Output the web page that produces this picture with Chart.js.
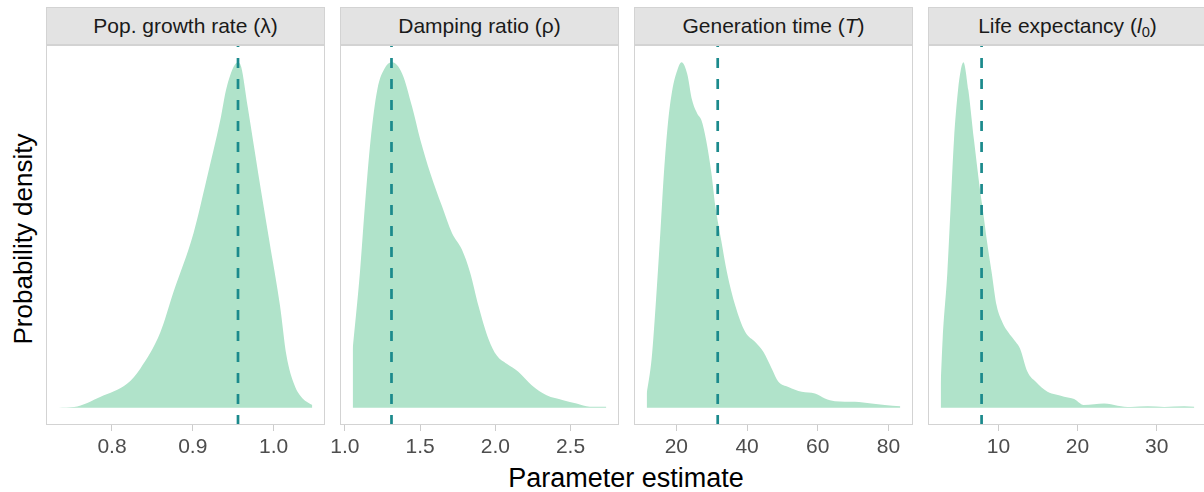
<!DOCTYPE html>
<html lang="en">
<head>
  <meta charset="UTF-8">
  <title>Parameter estimate densities</title>
  <script src="https://cdn.jsdelivr.net/npm/chart.js"></script>
  <style>
    html, body { margin: 0; padding: 0; overflow: hidden; background: #fff; }
    body { position: relative; width: 1204px; height: 492px; font-family: 'Liberation Sans', Arial, sans-serif; }
    .strip {
      position: absolute; top: 7px; height: 38px; box-sizing: border-box;
      background: #e3e3e3; border: 1px solid #d3d3d3;
      text-align: center; line-height: 36px; font-size: 21px; color: #1a1a1a; white-space: nowrap;
    }
    .strip sub { font-size: 0.7em; line-height: 0; vertical-align: -0.25em; }
    .panel { position: absolute; top: 45px; }
    .xtitle { position: absolute; left: 0; width: 1252px; top: 465px; height: 26px; line-height: 26px; text-align: center; font-size: 27px; color: #000; }
    .ytitle { position: absolute; left: -127px; top: 226px; width: 300px; height: 26px; line-height: 26px; text-align: center; font-size: 26px; color: #000; transform: rotate(-90deg); }
  </style>
</head>
<body>
  <div class="ytitle">Probability density</div>
  <div class="xtitle">Parameter estimate</div>

  <script>
    // facet titles
    const panelTitles = ['Pop. growth rate (λ)', 'Damping ratio (ρ)', 'Generation time (<i>T</i>)', 'Life expectancy (<i>l</i><sub>0</sub>)'];

    // density curves (relative height)
    const lambdaX = [0.734, 0.753, 0.786, 0.819, 0.835, 0.860, 0.876, 0.901, 0.917, 0.934, 0.942, 0.956, 0.960, 0.968, 0.981, 0.9945, 1.008, 1.016, 1.026, 1.036, 1.048];
    const lambdaY = [0, 0.002, 0.032, 0.07, 0.113, 0.219, 0.334, 0.506, 0.66, 0.832, 0.928, 1.0, 0.986, 0.871, 0.679, 0.487, 0.295, 0.151, 0.065, 0.027, 0.008];

    const rhoX = [1.052, 1.100, 1.133, 1.171, 1.215, 1.270, 1.315, 1.381, 1.447, 1.502, 1.568, 1.646, 1.712, 1.778, 1.833, 1.888, 1.954, 2.010, 2.076, 2.153, 2.242, 2.341, 2.451, 2.540, 2.628, 2.738];
    const rhoY = [0.171, 0.391, 0.583, 0.775, 0.919, 0.986, 1.0, 0.967, 0.871, 0.775, 0.679, 0.583, 0.506, 0.458, 0.391, 0.295, 0.2, 0.151, 0.127, 0.104, 0.065, 0.036, 0.022, 0.012, 0.003, 0.003];

    const genX = [11.61, 13.01, 14.14, 15.35, 16.48, 17.61, 18.84, 20.25, 21.46, 23.06, 24.47, 25.89, 27.10, 28.42, 29.92, 31.04, 32.65, 34.34, 36.68, 39.49, 42.31, 44.65, 47.0, 48.87, 51.69, 55.46, 59.21, 62.03, 64.85, 70.48, 75.18, 78.93, 83.35];
    const genY = [0.041, 0.142, 0.295, 0.487, 0.679, 0.823, 0.919, 0.976, 1.0, 0.967, 0.89, 0.852, 0.832, 0.775, 0.679, 0.583, 0.487, 0.391, 0.295, 0.219, 0.19, 0.161, 0.113, 0.075, 0.06, 0.046, 0.041, 0.027, 0.019, 0.017, 0.012, 0.008, 0.004];

    const lifeX = [2.70, 2.95, 3.54, 3.96, 4.38, 4.89, 5.23, 5.57, 6.20, 6.91, 7.67, 7.97, 8.52, 9.15, 9.78, 10.51, 11.22, 12.19, 12.74, 13.67, 14.72, 16.20, 17.25, 18.30, 19.57, 20.76, 22.10, 23.37, 25.06, 26.75, 28.86, 30.96, 33.49, 34.76];
    const lifeY = [0.07, 0.2, 0.391, 0.583, 0.775, 0.919, 0.976, 1.0, 0.919, 0.775, 0.631, 0.583, 0.487, 0.391, 0.295, 0.247, 0.219, 0.19, 0.171, 0.104, 0.075, 0.046, 0.038, 0.032, 0.025, 0.008, 0.01, 0.012, 0.006, 0.002, 0.004, 0.002, 0.004, 0.003];

    // dashed reference lines
    const refValues = [0.956, 1.31, 31.7, 7.87];

    // x tick positions and labels
    const tickValues = [[0.8, 0.9, 1.0], [1.0, 1.5, 2.0, 2.5], [20, 40, 60, 80], [10, 20, 30]];
    const tickLabels = [['0.8', '0.9', '1.0'], ['1.0', '1.5', '2.0', '2.5'], ['20', '40', '60', '80'], ['10', '20', '30']];

    const seriesX = [lambdaX, rhoX, genX, lifeX];
    const seriesY = [lambdaY, rhoY, genY, lifeY];

    const fillColor = '#b0e3ca';
    const lineColor = '#1b8a8c';
    const panelW = 279, panelH = 425, gap = 15, firstLeft = 46;
    const margin = 20; // room on the canvas for labels that hang past the panel edge

    // light grey box around each plot area
    const panelBorder = {
      id: 'panelBorder',
      afterDraw(chart) {
        const { ctx, chartArea: a } = chart;
        ctx.save();
        ctx.strokeStyle = '#d3d3d3';
        ctx.lineWidth = 1;
        ctx.strokeRect(a.left + 0.5, a.top + 0.5, a.right - a.left - 1, a.bottom - a.top - 1);
        ctx.restore();
      }
    };

    function makePanel(i) {
      const left = firstLeft + i * (panelW + gap);

      const strip = document.createElement('div');
      strip.className = 'strip';
      strip.style.left = left + 'px';
      strip.style.width = panelW + 'px';
      strip.innerHTML = panelTitles[i];
      document.body.appendChild(strip);

      const box = document.createElement('div');
      box.className = 'panel';
      box.style.left = (left - margin) + 'px';
      const canvas = document.createElement('canvas');
      canvas.width = panelW + 2 * margin;
      canvas.height = panelH;
      box.appendChild(canvas);
      document.body.appendChild(box);

      const xs = seriesX[i], ys = seriesY[i];
      const lo = Math.min(...xs), hi = Math.max(...xs), pad = (hi - lo) * 0.05;

      new Chart(canvas, {
        type: 'line',
        data: {
          datasets: [
            {
              data: [{ x: refValues[i], y: -0.05 }, { x: refValues[i], y: 1.05 }],
              borderColor: lineColor,
              borderWidth: 2.7,
              borderDash: [10, 11],
              pointRadius: 0,
              fill: false,
              order: 0
            },
            {
              data: xs.map((x, k) => ({ x: x, y: ys[k] })),
              fill: 'origin',
              backgroundColor: fillColor,
              borderColor: 'rgba(0,0,0,0)',
              borderWidth: 0,
              pointRadius: 0,
              cubicInterpolationMode: 'monotone',
              order: 1
            }
          ]
        },
        options: {
          responsive: false,
          animation: false,
          devicePixelRatio: 1,
          layout: { padding: { left: margin, right: margin, top: 0, bottom: 0 } },
          plugins: { legend: { display: false }, tooltip: { enabled: false } },
          scales: {
            x: {
              type: 'linear',
              min: lo - pad,
              max: hi + pad,
              afterBuildTicks: s => { s.ticks = tickValues[i].map(v => ({ value: v })); },
              afterFit: s => { s.height = 45; s.paddingLeft = 0; s.paddingRight = 0; },
              grid: { drawOnChartArea: false, drawTicks: true, tickLength: 6, color: '#cccccc' },
              border: { display: false },
              ticks: {
                autoSkip: false,
                maxRotation: 0,
                padding: 4,
                color: '#4d4d4d',
                font: { family: 'Liberation Sans', size: 21 },
                callback: (v, k) => tickLabels[i][k]
              }
            },
            y: { display: false, min: -0.05, max: 1.05 }
          }
        },
        plugins: [panelBorder]
      });
    }

    for (let i = 0; i < 4; i++) makePanel(i);
  </script>
</body>
</html>
